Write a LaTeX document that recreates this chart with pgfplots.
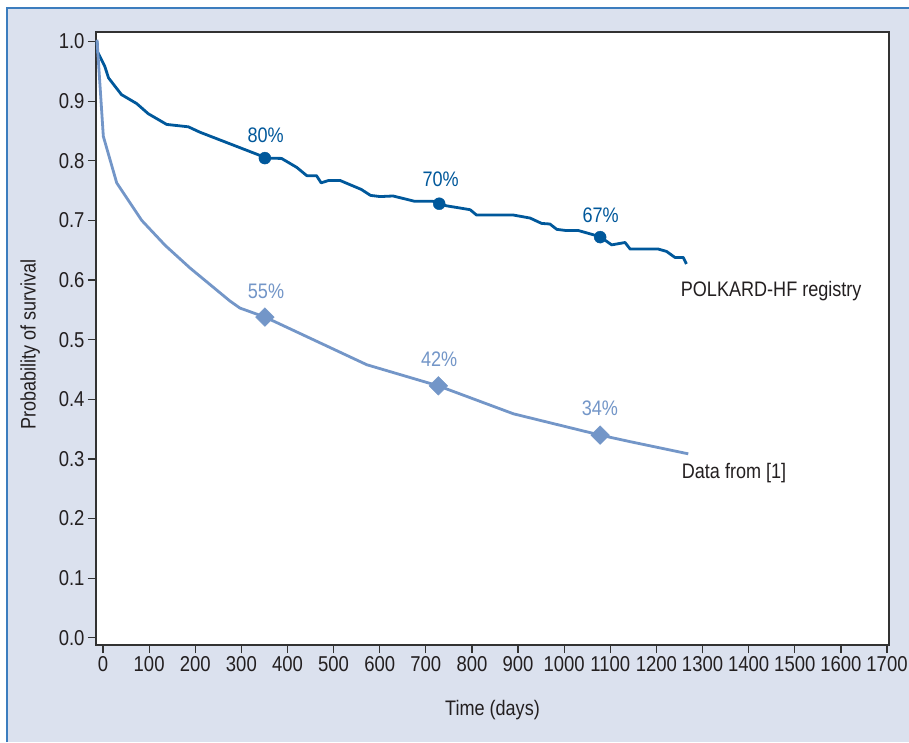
\documentclass[border=0pt]{standalone}
\usepackage{fontspec}
\setmainfont{Liberation Sans}[FakeStretch=0.86]
\usepackage{pgfplots}
\pgfplotsset{compat=1.18}
\definecolor{bg}{RGB}{219,225,238}
\definecolor{frameblue}{RGB}{60,125,190}
\definecolor{darkser}{RGB}{0,88,155}
\definecolor{lightser}{RGB}{115,150,200}
\definecolor{txt}{RGB}{35,31,32}
\definecolor{axisc}{RGB}{50,50,50}
\begin{document}
\begin{tikzpicture}
\fill[white] (-96pt,-97pt) rectangle (813pt,645pt);
\fill[bg] (-89pt,-97pt) rectangle (813pt,637pt);
\draw[frameblue, line width=2pt] (-89pt,-97pt) -- (-89pt,637pt) -- (813pt,637pt);
\begin{axis}[
  at={(0,0)}, anchor=south west,
  scale only axis, width=793pt, height=613pt,
  xmin=-15.2, xmax=1704.3, ymin=-0.012, ymax=1.016,
  axis background/.style={fill=white},
  axis line style={axisc, line width=1.4pt},
  xtick={0,100,...,1700},
  ytick={0,0.1,0.2,0.3,0.4,0.5,0.6,0.7,0.8,0.9,1.0},
  yticklabel style={/pgf/number format/fixed, /pgf/number format/fixed zerofill, /pgf/number format/precision=1},
  /pgf/number format/assume math mode=true,
  /pgf/number format/1000 sep={},
  xtick pos=left, ytick pos=left,
  tick align=outside, major tick length=8pt,
  tick style={axisc, line width=1.2pt},
  every tick label/.append style={font=\fontsize{21.5}{24}\selectfont, text=txt},
  label style={font=\fontsize{21}{24}\selectfont, text=txt},
  xlabel={Time (days)},
  ylabel={Probability of survival},
  xlabel style={at={(axis description cs:0.5,-0.106)}, anchor=center},
  ylabel style={at={(axis description cs:-0.083,0.49)}, anchor=center},
  clip=false,
]
\addplot[darkser, line width=2.8pt, line join=round] coordinates {
(-13,1.00) (-12,0.983) (4,0.958) (12,0.939) (26,0.925) (40,0.911) (73,0.896) (98,0.879) (138,0.861) (185,0.857) (210,0.848) (337,0.810) (351,0.8045) (387,0.804) (420,0.789) (442,0.775) (463,0.775) (473,0.763) (489,0.767) (514,0.767) (560,0.752) (580,0.742) (601,0.740) (629,0.741) (676,0.732) (716,0.732) (729,0.728) (745,0.7245) (796,0.718) (810,0.709) (890,0.709) (926,0.704) (951,0.695) (969,0.694) (984,0.685) (1005,0.683) (1031,0.683) (1063,0.676) (1078,0.672) (1092,0.665) (1103,0.659) (1132,0.663) (1143,0.652) (1204,0.652) (1222,0.648) (1240,0.638) (1258,0.638) (1265,0.627)
};
\addplot[lightser, line width=2.8pt, line join=round] coordinates {
(-13,1.003) (0.7,0.841) (29.7,0.763) (84,0.700) (135,0.658) (189,0.620) (275,0.565) (297,0.553) (351,0.538) (572,0.458) (727,0.4226) (890,0.3757) (1078,0.340) (1143,0.329) (1269,0.3086)
};
\addplot[only marks, mark=*, mark size=6pt, darkser] coordinates {(351,0.8045) (729,0.728) (1078,0.672)};
\addplot[only marks, mark=square*, mark size=6.6pt, mark options={rotate=45}, lightser] coordinates {(351,0.538) (727,0.4226) (1078,0.340)};
\node[text=darkser, font=\fontsize{21}{24}\selectfont] at (axis cs:352.8,0.842) {80\%};
\node[text=darkser, font=\fontsize{21}{24}\selectfont] at (axis cs:732,0.7692) {70\%};
\node[text=darkser, font=\fontsize{21}{24}\selectfont] at (axis cs:1079,0.7093) {67\%};
\node[text=lightser, font=\fontsize{21}{24}\selectfont] at (axis cs:353.4,0.5807) {55\%};
\node[text=lightser, font=\fontsize{21}{24}\selectfont] at (axis cs:729,0.4673) {42\%};
\node[text=lightser, font=\fontsize{21}{24}\selectfont] at (axis cs:1077.6,0.385) {34\%};
\node[text=txt, anchor=west, inner sep=0pt, font=\fontsize{21}{24}\selectfont] at (axis cs:1252.6,0.5807) {POLKARD-HF registry};
\node[text=txt, anchor=west, inner sep=0pt, font=\fontsize{21}{24}\selectfont] at (axis cs:1254.7,0.276) {Data from [1]};
\end{axis}
\pgfresetboundingbox
\useasboundingbox (-96pt,-97pt) rectangle (813pt,645pt);
\end{tikzpicture}
\end{document}
